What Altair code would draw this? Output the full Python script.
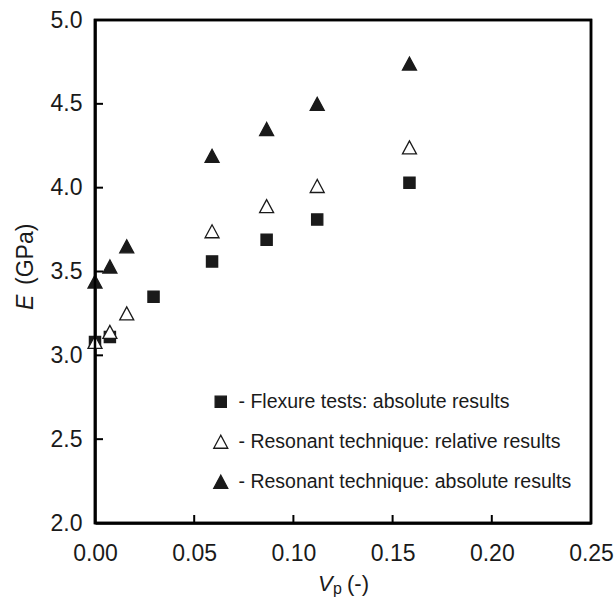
import altair as alt
import pandas as pd

# ---- data ----
series_names = [
    "Flexure tests: absolute results",
    "Resonant technique: relative results",
    "Resonant technique: absolute results",
]
x_flex = [0.0, 0.0075, 0.0295, 0.059, 0.0865, 0.112, 0.1585]
y_flex = [3.08, 3.11, 3.35, 3.56, 3.69, 3.81, 4.03]
x_rel = [0.0, 0.0075, 0.016, 0.059, 0.0865, 0.112, 0.1585]
y_rel = [3.08, 3.14, 3.25, 3.74, 3.89, 4.01, 4.24]
x_abs = [0.0, 0.0075, 0.016, 0.059, 0.0865, 0.112, 0.1585]
y_abs = [3.44, 3.53, 3.65, 4.19, 4.35, 4.50, 4.74]

x_tick_values = [0.0, 0.05, 0.10, 0.15, 0.20, 0.25]
y_tick_values = [2.0, 2.5, 3.0, 3.5, 4.0, 4.5, 5.0]
x_inner_ticks = [0.05, 0.10, 0.15, 0.20]
y_inner_ticks = [2.5, 3.0, 3.5, 4.0, 4.5]
x_range = [0.0, 0.25]
y_range = [2.0, 5.0]

rows = []
for name, xs, ys in zip(series_names, [x_flex, x_rel, x_abs], [y_flex, y_rel, y_abs]):
    for a, b in zip(xs, ys):
        rows.append({"Vp": a, "E": b, "series": name})
df = pd.DataFrame(rows)

W, H = 496, 503
FONT = "Liberation Sans"
INK = "#1a1a1a"

xscale = alt.Scale(domain=x_range, nice=False, zero=False)
yscale = alt.Scale(domain=y_range, nice=False, zero=False)
xaxis = alt.Axis(title=None, values=x_tick_values, format=".2f", ticks=False,
                 domain=True, domainColor="black", domainWidth=2.5, grid=False,
                 labelFontSize=23, labelFont=FONT,
                 labelColor=INK, labelPadding=19, labelFlush=False, labelOverlap=False)
yaxis = alt.Axis(title=None, values=y_tick_values, format=".1f", ticks=False,
                 domain=True, domainColor="black", domainWidth=2.5, grid=False,
                 labelFontSize=23, labelFont=FONT,
                 labelColor=INK, labelPadding=13, labelFlush=False, labelOverlap=False)

SQ = "M-0.8,-0.8L0.8,-0.8L0.8,0.8L-0.8,0.8Z"
TRI = "M0,-0.93L-1,0.93L1,0.93Z"

legend_kw = dict(title=None, orient="none", legendX=116, legendY=372,
                 labelExpr="'- ' + datum.label", labelFontSize=19.5, labelFont=FONT,
                 labelColor=INK, labelOffset=8, rowPadding=19, symbolSize=196,
                 symbolStrokeColor=INK, symbolStrokeWidth=1.3, symbolOpacity=1,
                 padding=0, labelLimit=400)

# frame of the plot area, placed through the scales at the axis limits
frame = alt.Chart(pd.DataFrame({"x0": [x_range[0]], "x1": [x_range[1]],
                                "y0": [y_range[0]], "y1": [y_range[1]]})).mark_rect(
    fill="transparent", stroke="black", strokeWidth=2.5).encode(
    x=alt.X("x0:Q", scale=xscale, axis=xaxis), x2="x1:Q",
    y=alt.Y("y0:Q", scale=yscale, axis=yaxis), y2="y1:Q")

points = alt.Chart(df).mark_point(filled=True, strokeWidth=1.3,
                                  opacity=1, size=196).encode(
    x=alt.X("Vp:Q", scale=xscale, axis=xaxis),
    y=alt.Y("E:Q", scale=yscale, axis=yaxis),
    shape=alt.Shape("series:N", scale=alt.Scale(domain=series_names, range=[SQ, TRI, TRI]),
                    legend=alt.Legend(**legend_kw)),
    fill=alt.Fill("series:N", scale=alt.Scale(domain=series_names, range=[INK, "white", INK]),
                  legend=alt.Legend(**legend_kw)),
    stroke=alt.Stroke("series:N", scale=alt.Scale(domain=series_names, range=[INK, INK, INK]),
                      legend=alt.Legend(**legend_kw)),
)

# inward ticks
yt = alt.Chart(pd.DataFrame({"E": y_inner_ticks})).mark_rule(color="black", strokeWidth=2).encode(
    y=alt.Y("E:Q", scale=yscale, axis=yaxis), x=alt.value(0), x2=alt.value(8))
xt = alt.Chart(pd.DataFrame({"Vp": x_inner_ticks})).mark_rule(color="black", strokeWidth=2).encode(
    x=alt.X("Vp:Q", scale=xscale, axis=xaxis), y=alt.value(H), y2=alt.value(H - 8))

def label(text, x, y, size=22, style="normal", angle=0):
    return alt.Chart(pd.DataFrame({"t": [text]})).mark_text(
        font=FONT, fontSize=size, fontStyle=style, color=INK, align="left",
        baseline="alphabetic", angle=angle).encode(
        text="t:N", x=alt.value(x), y=alt.value(y))

titles = [
    label("V", 223, 571, 22, "italic"),
    label("p", 238, 574, 16),
    label("(-)", 252, 571, 22),
    label("E", -62, 290, 23, "italic", 270),
    label("(GPa)", -62, 265, 23, "normal", 270),
]

chart = alt.layer(points, *titles, frame, xt, yt).properties(
    width=W, height=H,
    background="white",
    padding={"left": 95, "top": 20, "right": 25, "bottom": 74},
    autosize=alt.AutoSizeParams(type="none"),
).configure_view(stroke="black", strokeWidth=2.5)

chart.save("out.html", embed_options={"renderer": "svg", "actions": False})
